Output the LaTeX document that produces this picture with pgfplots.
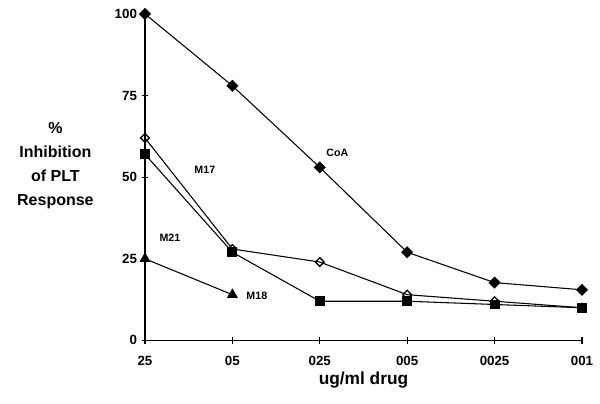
\documentclass[border=0pt]{standalone}
\usepackage{pgfplots}
\pgfplotsset{compat=1.18}
\usepackage{fontspec}
\setmainfont{Liberation Sans}
\begin{document}
\begin{tikzpicture}[font=\bfseries]
\begin{axis}[
  width=328pt, height=245pt, scale only axis,
  xmin=0, xmax=5, ymin=0, ymax=100,
  axis lines*=left,
  axis line style={line width=0.9pt},
  xtick={0,1,2,3,4,5},
  xticklabels={25,05,025,005,0025,001},
  ytick={0,25,50,75,100},
  tick align=center, major tick length=5pt,
  tick style={line width=0.8pt, black},
  tick label style={font=\bfseries\fontsize{10}{12}\selectfont},
  /pgf/number format/assume math mode=true,
  xticklabel style={yshift=-6pt},
  xlabel={ug/ml drug},
  xlabel style={font=\bfseries\fontsize{13}{15}\selectfont, yshift=2pt},
  clip=false,
  every axis plot/.append style={black, line width=0.8pt},
]
% CoA
\addplot[mark=square*, mark size=2.8pt, mark options={rotate=45}] coordinates {(0,100) (1,78) (2,53) (3,27) (4,17.7) (5,15.5)};
% M17
\addplot[mark=square, mark options={fill=white, rotate=45, line width=1pt}, mark size=2.3pt] coordinates {(0,62) (1,28) (2,24) (3,14) (4,12) (5,10)};
% M21
\addplot[mark=square*, mark size=3.3pt] coordinates {(0,57) (1,27) (2,12) (3,12) (4,11) (5,10)};
% M18
\addplot[mark=triangle*, mark size=4pt] coordinates {(0,25) (1,14)};
\node[font=\bfseries\fontsize{8}{10}\selectfont] at (axis cs:2.2,57.5) {CoA};
\node[font=\bfseries\fontsize{8}{10}\selectfont] at (axis cs:0.685,52.3) {M17};
\node[font=\bfseries\fontsize{8}{10}\selectfont] at (axis cs:0.285,31.5) {M21};
\node[font=\bfseries\fontsize{8}{10}\selectfont] at (axis cs:1.28,13.5) {M18};
\node[font=\bfseries\fontsize{12}{18}\selectfont, align=center] at (rel axis cs:-0.205,0.535) {\%\\Inhibition\\of PLT\\Response};
\path[draw=none] (rel axis cs:-0.3318,-0.1927) rectangle (rel axis cs:1.0412,1.0428);
\end{axis}
\end{tikzpicture}
\end{document}
